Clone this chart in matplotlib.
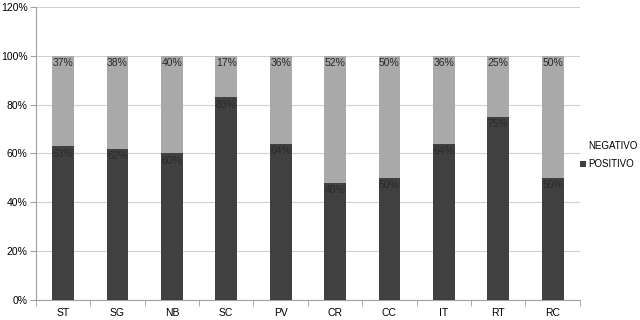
import numpy as np
import matplotlib
matplotlib.use("Agg")
from matplotlib import pyplot as plt
from matplotlib.ticker import PercentFormatter, FixedLocator

plt.rcParams['font.family'] = ['Liberation Sans', 'DejaVu Sans']

categorias = ["ST", "SG", "NB", "SC", "PV", "CR", "CC", "IT", "RT", "RC"]
positivo = [63, 62, 60, 83, 64, 48, 50, 64, 75, 50]
negativo = [37, 38, 40, 17, 36, 52, 50, 36, 25, 50]

fig = plt.figure(figsize=(6.4, 3.2), dpi=100)
ax = fig.add_axes([0.056, 0.0625, 0.850, 0.916])

x = np.arange(len(categorias))
b1 = ax.bar(x, positivo, width=0.4, color="#404040", label="POSITIVO", zorder=3)
b2 = ax.bar(x, negativo, width=0.4, bottom=positivo, color="#a9a9a9", label="NEGATIVO", zorder=3)

# etiquetas dentro de cada segmento, arriba
for i in range(len(categorias)):
    ax.text(x[i], positivo[i] - 1, "%d%%" % positivo[i], ha="center", va="top",
            fontsize=7.5, color="#2a2a2a", zorder=4)
    ax.text(x[i], 100 - 1, "%d%%" % negativo[i], ha="center", va="top",
            fontsize=7.5, color="#2a2a2a", zorder=4)

ax.set_xlim(-0.5, len(categorias) - 0.5)
ax.set_ylim(0, 120)
ax.set_yticks(np.arange(0, 121, 20))
ax.yaxis.set_major_formatter(PercentFormatter(decimals=0))
ax.set_xticks(x)
ax.set_xticklabels(categorias)
ax.xaxis.set_minor_locator(FixedLocator(np.arange(-0.5, len(categorias), 1)))
ax.tick_params(axis="x", which="major", length=0, labelsize=7.5, pad=6)
ax.tick_params(axis="x", which="minor", length=4, color="#a0a0a0")
ax.tick_params(axis="y", length=4, color="#a0a0a0", labelsize=7.5, pad=2)
ax.grid(axis="y", color="#d0d0d0", linewidth=0.8, zorder=0)

for s in ["top", "right"]:
    ax.spines[s].set_visible(False)
for s in ["left", "bottom"]:
    ax.spines[s].set_color("#a0a0a0")

leg = fig.legend([b2, b1], ["NEGATIVO", "POSITIVO"], loc="center left",
                 bbox_to_anchor=(0.903, 0.515), frameon=False, fontsize=7,
                 handlelength=0.6, handleheight=0.6, handletextpad=0.3,
                 labelspacing=0.8, borderpad=0.1, borderaxespad=0.1)
leg.legend_handles[0].set_visible(False)

fig.savefig("out.png", dpi=100)
